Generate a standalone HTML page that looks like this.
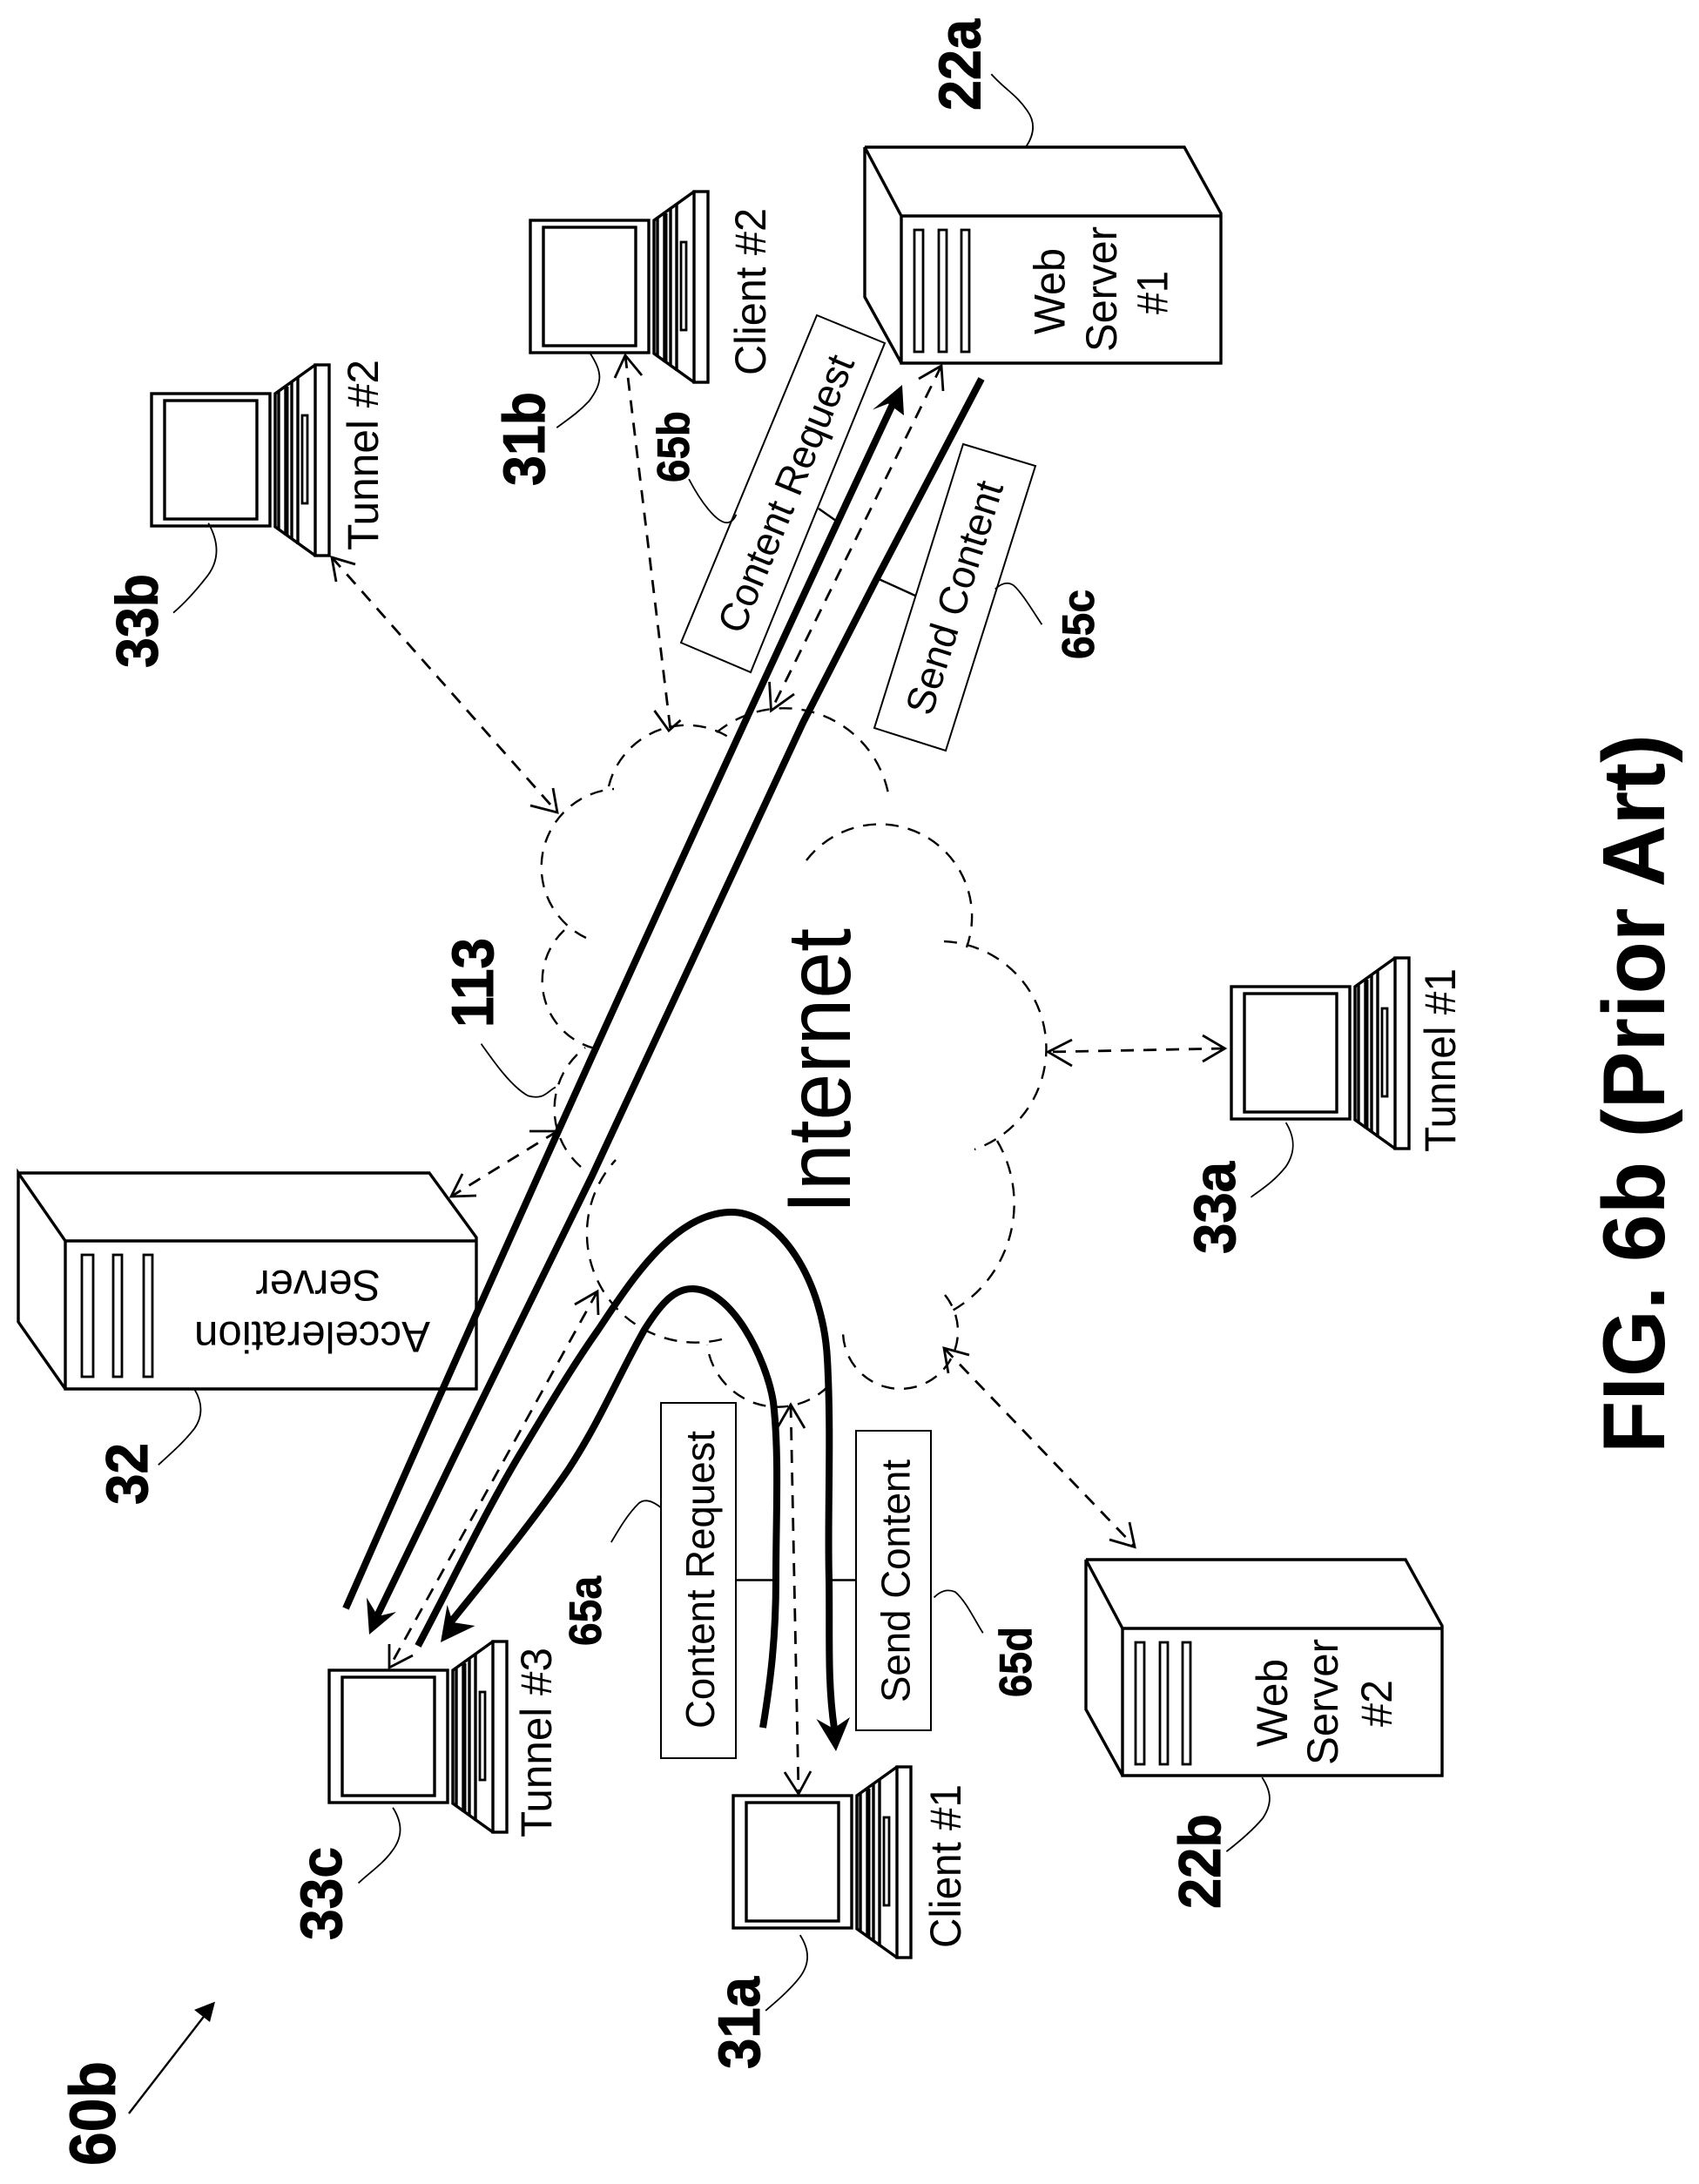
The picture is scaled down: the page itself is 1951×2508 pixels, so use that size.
<!DOCTYPE html>
<html><head><meta charset="utf-8"><style>
html,body{margin:0;padding:0;background:#fff}
svg{display:block}
text{font-family:"Liberation Sans",sans-serif;fill:#000}
.bb text,.bs text{stroke:#000}
.bb text{stroke-width:1}
.bs text{stroke-width:.7}
.l{fill:none;stroke:#000;stroke-width:1.8}
.d{fill:none;stroke:#000;stroke-width:2.8;stroke-dasharray:15 11}
.c{fill:none;stroke:#000;stroke-width:2.4;stroke-dasharray:15 11}
.h{fill:none;stroke:#000;stroke-width:2.8}
.t{fill:none;stroke:#000;stroke-width:8;stroke-linejoin:round}
.s{fill:none;stroke:#000;stroke-width:3.4}
</style></head><body>
<svg width="1951" height="2508" viewBox="0 0 1951 2508" xmlns="http://www.w3.org/2000/svg">
<rect width="1951" height="2508" fill="#fff"/>
<defs>
<g id="laptop">
<rect x="0" y="1" width="136" height="152" class="s"/>
<rect x="15" y="9" width="106" height="136" class="s"/>
<rect x="188" y="-32" width="16" height="219" class="s"/>
<path d="M188,-32 L142,1 V154 L188,187" class="s"/>
<path d="M146,-2 V157 M154,-8 V163 M161,-13 V168 M168,-18 V174" fill="none" stroke="#000" stroke-width="3.4"/>
<path d="M155,-7 V164" fill="none" stroke="#000" stroke-width="5"/>
<rect x="173" y="26" width="6" height="101" fill="none" stroke="#000" stroke-width="2.8"/>
</g>
<g id="server">
<path d="M0,0 H367 L409,76 V248 H42 V79 L0,0 V172 L42,248 M42,79 H409" class="s"/>
<rect x="57" y="95" width="10" height="140" fill="none" stroke="#000" stroke-width="2.8"/>
<rect x="85" y="95" width="9" height="140" fill="none" stroke="#000" stroke-width="2.8"/>
<rect x="111" y="95" width="9" height="140" fill="none" stroke="#000" stroke-width="2.8"/>
</g>
</defs>

<use href="#laptop" x="174" y="451"/>
<use href="#laptop" x="609" y="252"/>
<use href="#laptop" x="1414" y="1132"/>
<use href="#laptop" x="378" y="1917"/>
<use href="#laptop" x="842" y="2061"/>

<use href="#server" x="993" y="169"/>
<use href="#server" x="1247" y="1791"/>
<g>
<path d="M21,1347 H493 L547,1421 V1595 H75 V1425 L21,1347 V1518 L75,1595 M75,1425 H547" class="s"/>
<rect x="94" y="1441" width="13" height="140" fill="none" stroke="#000" stroke-width="2.8"/>
<rect x="130" y="1441" width="10" height="140" fill="none" stroke="#000" stroke-width="2.8"/>
<rect x="165" y="1441" width="10" height="140" fill="none" stroke="#000" stroke-width="2.8"/>
</g>

<!-- cloud -->
<path class="c" d="M673,1077 A90,90 0 0 1 705,906"/>
<path class="c" d="M699,903 A92,92 0 0 1 836,846"/>
<path class="c" d="M823,841 A122,122 0 0 1 1020,911"/>
<path class="c" d="M926,988 A106,106 0 0 1 1110,1088"/>
<path class="c" d="M1084,1081 A123,123 0 0 1 1119,1320"/>
<path class="c" d="M1145,1310 A142,142 0 0 1 1092,1506"/>
<path class="c" d="M1085,1487 A66,66 0 1 1 968,1529"/>
<path class="c" d="M951,1592 A82,82 0 0 1 812,1544"/>
<path class="c" d="M829,1538 A125,125 0 0 1 707,1332"/>
<path class="c" d="M683,1204 A80,80 0 0 1 654,1063"/>
<path class="c" d="M667,1340 A88,88 0 0 1 672,1203"/>

<!-- label boxes -->
<path d="M938,362 L1016,394 L862,772 L782,738 Z" fill="none" stroke="#000" stroke-width="2"/>
<path d="M1106,510 L1189,535 L1086,862 L1004,836 Z" fill="none" stroke="#000" stroke-width="2"/>
<rect x="759" y="1611" width="86" height="408" fill="none" stroke="#000" stroke-width="2"/>
<rect x="983" y="1643" width="86" height="344" fill="none" stroke="#000" stroke-width="2"/>
<path d="M940,584 L960,598 M1007,664 L1051,684 M845,1814.5 H887 M955,1814.5 H983" fill="none" stroke="#000" stroke-width="2.4"/>

<!-- thick lines -->
<path class="t" d="M397,1847 Q703,1151 1028,458"/>
<path d="M1036,442 L1002,470.5 L1020,463.5 L1038,477 Z"/>
<path class="t" d="M1127,435 L1007,664 L922,830 L680,1350 L523,1670 L430,1862"/>
<path d="M424,1877 L421,1834.6 L434,1856 L455,1851 Z"/>
<path class="t" d="M480,1890 C520,1815 560,1730 603,1660 C630,1615 660,1565 687,1527 C725,1470 775,1392 840,1392 C895,1392 945,1470 950,1560 C955,1650 950,1740 952,1813 C953,1880 950,1930 958,1985"/>
<path d="M960,2011 L937.5,1974 L957,1985 L976,1972 Z"/>
<path class="t" d="M515,1866 C560,1810 610,1750 653,1687 C690,1630 710,1580 740,1527 C760,1495 775,1480 795,1480 C840,1480 880,1560 888,1610 C895,1670 891,1740 891,1813 C891,1880 885,1930 876,1984"/>
<path d="M506,1886 L513.6,1843 L520,1863 L545.5,1867 Z"/>

<!-- dashed double arrows -->
<path class="d" d="M381,640 L640,933"/><path class="h" d="M408,648 L381,640 L386,668 M609,925 L640,933 L635,905"/>
<path class="d" d="M718,408 L770,839"/><path class="h" d="M706,434 L718,408 L737,431 M751.5,816 L768,839 L781.5,827"/>
<path class="d" d="M1081,420 L885.5,816"/><path class="h" d="M1055,435 L1081,420 L1083,449 M883.5,783 L885.5,816 L912,797"/>
<path class="d" d="M1406,1204 L1204,1208"/><path class="h" d="M1381,1189 L1406.5,1204 L1381,1219 M1231,1194 L1203.5,1208 L1231,1224"/>
<path class="d" d="M1084,1548 L1303,1776"/><path class="h" d="M1113,1556 L1084,1548 L1089,1577 M1274,1768 L1303,1776.5 L1297,1748"/>
<path class="d" d="M640,1299 L518,1374"/><path class="h" d="M608,1299 L640,1299 L628,1323 M531,1348 L518,1374 L547,1373"/>
<path class="d" d="M686,1483 L447,1915"/><path class="h" d="M660,1498 L686,1483 L687,1510 M447,1888 L447,1915 L474,1901"/>
<path class="d" d="M908,1613 L917,2060"/><path class="h" d="M893,1639 L908,1613 L924,1640 M901,2035 L917,2060 L931,2034"/>

<!-- 60b arrow -->
<path d="M148,2427 L240,2308" fill="none" stroke="#000" stroke-width="2.4"/>
<path d="M247,2298.6 L223,2308 L241,2322 Z"/>

<!-- leader curves -->
<g transform="scale(.638,.5421)">
<path class="l" vector-effect="non-scaling-stroke" d="M375,1108 C395,1150 395,1190 370,1225 C350,1255 330,1280 312,1298"/>
<path class="l" vector-effect="non-scaling-stroke" d="M1062,748 C1085,790 1085,810 1060,850 C1040,875 1020,890 1002,906"/>
<path class="l" vector-effect="non-scaling-stroke" d="M1240,1015 C1260,1060 1290,1110 1310,1107 Q1320,1105 1325,1090"/>
</g>
<g transform="translate(950,0) scale(.6384,.5421)">
<path class="l" vector-effect="non-scaling-stroke" d="M295,157 C320,190 340,200 360,235 C375,260 372,285 358,310"/>
<path class="l" vector-effect="non-scaling-stroke" d="M302,1248 Q320,1228 335,1240 C350,1255 370,1295 386,1323"/>
</g>
<g transform="translate(0,830) scale(.638,.5421)">
<path class="l" vector-effect="non-scaling-stroke" d="M866,680 C890,720 920,770 950,790 C980,800 985,780 1000,772"/>
<path class="l" vector-effect="non-scaling-stroke" d="M350,1412 C365,1440 365,1470 350,1495 C330,1525 310,1545 285,1572"/>
</g>
<g transform="translate(950,830) scale(.6384,.5421)">
<path class="l" vector-effect="non-scaling-stroke" d="M825,847 C842,880 842,910 825,940 C805,970 785,985 762,1005"/>
</g>
<g transform="translate(0,1660) scale(.638,.5421)">
<path class="l" vector-effect="non-scaling-stroke" d="M1190,132 Q1165,108 1150,122 C1130,145 1115,175 1100,205"/>
<path class="l" vector-effect="non-scaling-stroke" d="M707,767 C725,800 725,830 705,860 C690,885 665,905 645,927"/>
<path class="l" vector-effect="non-scaling-stroke" d="M1440,1037 C1458,1070 1458,1100 1437,1130 C1420,1155 1395,1180 1378,1197"/>
</g>
<g transform="translate(950,1660) scale(.6384,.5421)">
<path class="l" vector-effect="non-scaling-stroke" d="M192,322 Q210,300 230,310 C250,330 265,370 280,397"/>
<path class="l" vector-effect="non-scaling-stroke" d="M782,703 C800,735 800,760 783,790 C765,815 740,840 718,860"/>
</g>

<!-- regular text -->
<g font-size="50">
<text transform="translate(434,632) rotate(-90)" textLength="219" lengthAdjust="spacingAndGlyphs">Tunnel #2</text>
<text transform="translate(879,431) rotate(-90)" textLength="192" lengthAdjust="spacingAndGlyphs">Client #2</text>
<text transform="translate(1671,1323) rotate(-90)" textLength="211" lengthAdjust="spacingAndGlyphs">Tunnel #1</text>
<text transform="translate(633,2110) rotate(-90)" textLength="218" lengthAdjust="spacingAndGlyphs">Tunnel #3</text>
<text transform="translate(1103,2237) rotate(-90)" textLength="188" lengthAdjust="spacingAndGlyphs">Client #1</text>
<text transform="translate(1222.6,384) rotate(-90)" textLength="99" lengthAdjust="spacingAndGlyphs">Web</text>
<text transform="translate(1282,404) rotate(-90)" textLength="144" lengthAdjust="spacingAndGlyphs">Server</text>
<text transform="translate(1340.7,361) rotate(-90)" textLength="50" lengthAdjust="spacingAndGlyphs">#1</text>
<text transform="translate(1478,2006) rotate(-90)" textLength="101" lengthAdjust="spacingAndGlyphs">Web</text>
<text transform="translate(1536,2027) rotate(-90)" textLength="145" lengthAdjust="spacingAndGlyphs">Server</text>
<text transform="translate(1598,1983) rotate(-90)" textLength="54" lengthAdjust="spacingAndGlyphs">#2</text>
<text transform="translate(494,1518) rotate(180)" textLength="271" lengthAdjust="spacingAndGlyphs">Acceleration</text>
<text transform="translate(437,1459) rotate(180)" textLength="143.5" lengthAdjust="spacingAndGlyphs">Server</text>
</g>
<g font-size="46">
<text transform="translate(917,573) rotate(-67.6)" text-anchor="middle" textLength="340" lengthAdjust="spacingAndGlyphs">Content Request</text>
<text transform="translate(1111,691) rotate(-72.6)" text-anchor="middle" textLength="278" lengthAdjust="spacingAndGlyphs">Send Content</text>
<text transform="translate(820,1985) rotate(-90)" textLength="342" lengthAdjust="spacingAndGlyphs">Content Request</text>
<text transform="translate(1044.5,1955) rotate(-90)" textLength="279" lengthAdjust="spacingAndGlyphs">Send Content</text>
</g>
<text font-size="104" transform="translate(976,1394) rotate(-90)" textLength="328" lengthAdjust="spacingAndGlyphs">Internet</text>

<!-- bold labels -->
<g class="bb" font-size="68" font-weight="bold">
<text transform="translate(180.5,767) rotate(-90)" textLength="108" lengthAdjust="spacingAndGlyphs">33b</text>
<text transform="translate(625,558) rotate(-90)" textLength="108" lengthAdjust="spacingAndGlyphs">31b</text>
<text transform="translate(1125.5,127) rotate(-90)" textLength="105" lengthAdjust="spacingAndGlyphs">22a</text>
<text transform="translate(169,1728) rotate(-90)" textLength="71" lengthAdjust="spacingAndGlyphs">32</text>
<text transform="translate(566,1180) rotate(-90)" textLength="103" lengthAdjust="spacingAndGlyphs">113</text>
<text transform="translate(1418,1440) rotate(-90)" textLength="106" lengthAdjust="spacingAndGlyphs">33a</text>
<text transform="translate(392,2228) rotate(-90)" textLength="107" lengthAdjust="spacingAndGlyphs">33c</text>
<text transform="translate(872,2376) rotate(-90)" textLength="106" lengthAdjust="spacingAndGlyphs">31a</text>
<text transform="translate(1401,2192) rotate(-90)" textLength="109" lengthAdjust="spacingAndGlyphs">22b</text>
<text font-size="74" transform="translate(132,2487) rotate(-90)" textLength="120" lengthAdjust="spacingAndGlyphs">60b</text>
</g>
<g class="bs" font-size="52" font-weight="bold">
<text transform="translate(791,554) rotate(-90)" textLength="82" lengthAdjust="spacingAndGlyphs">65b</text>
<text transform="translate(1256,757) rotate(-90)" textLength="80" lengthAdjust="spacingAndGlyphs">65c</text>
<text transform="translate(690,1890) rotate(-90)" textLength="80" lengthAdjust="spacingAndGlyphs">65a</text>
<text transform="translate(1184,1949) rotate(-90)" textLength="81" lengthAdjust="spacingAndGlyphs">65d</text>
</g>
<text font-size="101" font-weight="bold" transform="translate(1911,1669) rotate(-90)" textLength="826" lengthAdjust="spacingAndGlyphs">FIG. 6b (Prior Art)</text>
</svg>
</body></html>
